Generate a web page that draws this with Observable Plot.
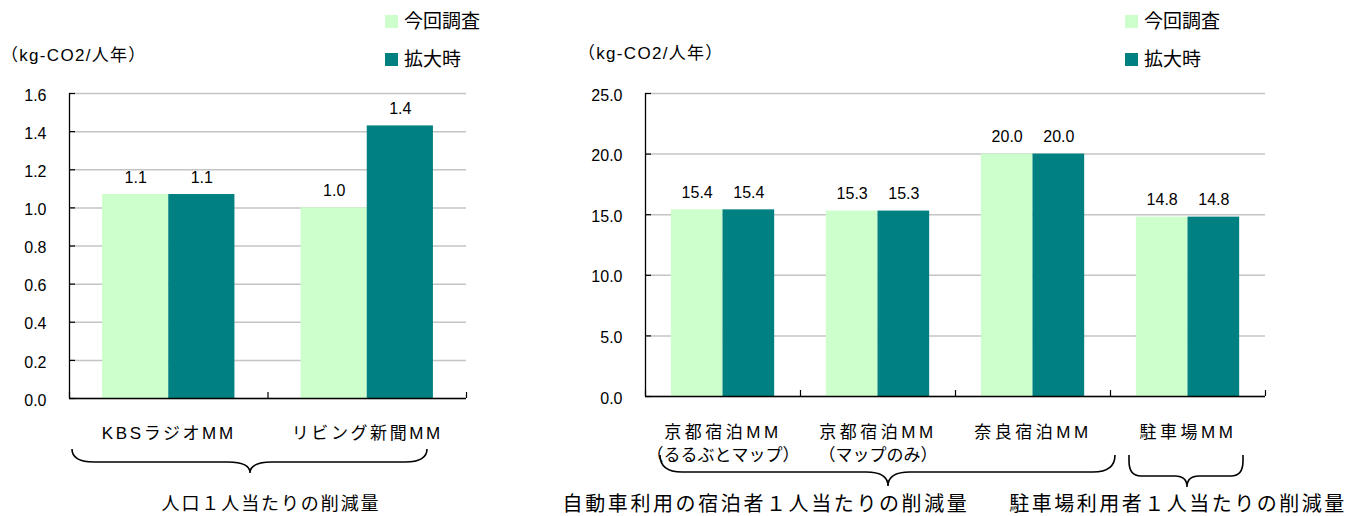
<!DOCTYPE html>
<html lang="ja">
<head>
<meta charset="utf-8">
<script src="https://cdn.jsdelivr.net/npm/d3@7"></script>
<script src="https://cdn.jsdelivr.net/npm/@observablehq/plot@0.6"></script>
<style>
  html, body { margin: 0; padding: 0; background: #fff; }
  #page {
    position: relative; width: 1364px; height: 516px; overflow: hidden;
    font-family: "Liberation Sans", "Noto Sans CJK JP", sans-serif; color: #000;
  }
  #page svg { position: absolute; top: 0; overflow: visible; }
  .unit { position: absolute; font-size: 17px; letter-spacing: 1.3px; white-space: nowrap; line-height: 1; }
  .legend { position: absolute; font-size: 19px; white-space: nowrap; line-height: 1; }
  .legend .item { position: absolute; left: 0; display: flex; align-items: center; }
  .legend .sw { width: 13px; height: 13px; margin-right: 6px; }
</style>
</head>
<body>
<div id="page"></div>
<script>
// Series shared by both panels
const seriesNames = ["今回調査", "拡大時"];
const seriesColors = ["#CCFFCC", "#008080"];
const unitLabel = "（kg-CO2/人年）";

// Left panel: reduction per resident
const leftCategories = ["KBSラジオMM", "リビング新聞MM"];
const leftSurvey = [1.07, 1.00];
const leftExpanded = [1.07, 1.43];
const leftTicks = [0, 0.2, 0.4, 0.6, 0.8, 1.0, 1.2, 1.4, 1.6];
const leftGroups = ["人口１人当たりの削減量"];

// Right panel: reduction per overnight guest / per parking user
const rightCategories = ["京都宿泊MM\n（るるぶとマップ）", "京都宿泊MM\n（マップのみ）", "奈良宿泊MM", "駐車場MM"];
const rightSurvey = [15.4, 15.3, 20.0, 14.8];
const rightExpanded = [15.4, 15.3, 20.0, 14.8];
const rightTicks = [0, 5, 10, 15, 20, 25];
const rightGroups = ["自動車利用の宿泊者１人当たりの削減量", "駐車場利用者１人当たりの削減量"];

const page = document.getElementById("page");
const fontFamily = '"Liberation Sans", "Noto Sans CJK JP", sans-serif';

function rowsOf(categories, survey, expanded) {
  const rows = [];
  categories.forEach((c, i) => {
    [survey[i], expanded[i]].forEach((v, s) => {
      // each category spans one unit; two bars of 1/3 each, centred
      const x1 = i + 1 / 6 + s / 3;
      rows.push({category: c, series: s, value: v, x1, x2: x1 + 1 / 3});
    });
  });
  return rows;
}

function panel({categories, survey, expanded, ticks, left, width, margins, labelDy, latinSpacing}) {
  const rows = rowsOf(categories, survey, expanded);
  const n = categories.length;
  const plotW = width - margins.left - margins.right;
  const plotH = 516 - margins.top - margins.bottom;
  const chart = Plot.plot({
    width, height: 516,
    marginTop: margins.top, marginBottom: margins.bottom,
    marginLeft: margins.left, marginRight: margins.right,
    x: {domain: [0, n], axis: null},
    y: {domain: [ticks[0], ticks[ticks.length - 1]], axis: null},
    style: {fontFamily, fontSize: "16px", color: "#000", background: "transparent", overflow: "visible"},
    marks: [
      Plot.ruleY(ticks, {y: d => d, stroke: "#c4c4c4", strokeWidth: 1.5}),
      Plot.rectY(rows, {x1: "x1", x2: "x2", y: "value", fill: d => seriesColors[d.series]}),
      Plot.text(rows, {
        x: d => (d.x1 + d.x2) / 2, y: "value", text: d => d.value.toFixed(1),
        dy: -17, fontSize: 16, fill: "#000"
      }),
      // y tick labels and inward tick marks
      Plot.text(ticks, {
        y: d => d, text: d => d.toFixed(1), frameAnchor: "left",
        textAnchor: "end", dx: -23, dy: 2, fontSize: 16, fill: "#000"
      }),
      Plot.tickY(ticks, {y: d => d, stroke: "#000", strokeWidth: 1.2, insetRight: plotW - 6}),
      // category boundary ticks along the baseline
      Plot.tickX(d3.range(n + 1), {x: d => d, stroke: "#000", strokeWidth: 1.2, insetTop: plotH - 6}),
      Plot.ruleX([0], {stroke: "#000", strokeWidth: 1.3}),
      Plot.ruleY([0], {stroke: "#000", strokeWidth: 1.3}),
      Plot.text(categories, {
        x: (d, i) => i + 0.5, text: d => d, frameAnchor: "bottom",
        lineAnchor: "top", lineHeight: 1.35, dy: labelDy, fontSize: 17, fill: "#000",
        ariaDescription: "category"
      })
    ]
  });
  // widen the lines that carry Latin letters in the category labels
  d3.select(chart).selectAll('g[aria-description="category"] text').each(function () {
    const parts = this.querySelectorAll("tspan");
    const targets = parts.length ? Array.from(parts) : [this];
    targets.forEach(t => {
      if (/[A-Za-z]/.test(t.textContent)) t.style.letterSpacing = latinSpacing + "px";
    });
  });
  chart.style.left = left + "px";
  page.appendChild(chart);
}

panel({
  categories: leftCategories, survey: leftSurvey, expanded: leftExpanded, ticks: leftTicks,
  left: 0, width: 480, margins: {top: 93, bottom: 118, left: 69, right: 14}, labelDy: 24, latinSpacing: 2.6
});
panel({
  categories: rightCategories, survey: rightSurvey, expanded: rightExpanded, ticks: rightTicks,
  left: 560, width: 720, margins: {top: 93, bottom: 120, left: 85, right: 15}, labelDy: 25, latinSpacing: 3.5
});

// unit labels and legends
function addUnit(x, y) {
  const d = document.createElement("div");
  d.className = "unit";
  d.textContent = unitLabel;
  d.style.left = x + "px";
  d.style.top = y + "px";
  page.appendChild(d);
}
function addLegend(x, y) {
  const box = document.createElement("div");
  box.className = "legend";
  box.style.left = x + "px";
  box.style.top = y + "px";
  seriesNames.forEach((name, i) => {
    const item = document.createElement("div");
    item.className = "item";
    item.style.top = (i * 38) + "px";
    const sw = document.createElement("span");
    sw.className = "sw";
    sw.style.background = seriesColors[i];
    const t = document.createElement("span");
    t.textContent = name;
    item.append(sw, t);
    box.appendChild(item);
  });
  page.appendChild(box);
}
addUnit(1, 47);
addUnit(578, 45);
addLegend(385, 12);
addLegend(1125, 12);

// braces grouping the categories, with their captions
const overlay = d3.select(page).append("svg")
  .attr("width", 1364).attr("height", 516)
  .style("left", "0px");

function bracePath(x1, x2, cx, yTop, yMid, yTip, r, v) {
  return `M${x1},${yTop} L${x1},${yTop + v} Q${x1},${yMid} ${x1 + r},${yMid} ` +
    `L${cx - r},${yMid} Q${cx},${yMid} ${cx},${yTip} Q${cx},${yMid} ${cx + r},${yMid} ` +
    `L${x2 - r},${yMid} Q${x2},${yMid} ${x2},${yTop + v} L${x2},${yTop}`;
}
const braces = [
  bracePath(72, 427, 250, 449, 462, 473, 22, 0),
  bracePath(660, 1115, 888, 455, 472, 486, 22, 0),
  bracePath(1129, 1243, 1187, 455, 476, 487, 12, 6)
];
overlay.append("g").selectAll("path").data(braces).join("path")
  .attr("d", d => d).attr("fill", "none").attr("stroke", "#000").attr("stroke-width", 1.6);

const captions = [
  {text: leftGroups[0], x: 271, size: 18, spacing: 1.9},
  {text: rightGroups[0], x: 766, size: 20, spacing: 2.6},
  {text: rightGroups[1], x: 1178, size: 20, spacing: 2.5}
];
overlay.append("g").selectAll("text").data(captions).join("text")
  .attr("x", d => d.x).attr("y", 504).attr("dy", "0.35em")
  .attr("text-anchor", "middle")
  .attr("font-family", fontFamily)
  .attr("font-size", d => d.size)
  .style("letter-spacing", d => d.spacing + "px")
  .text(d => d.text);
</script>
</body>
</html>
